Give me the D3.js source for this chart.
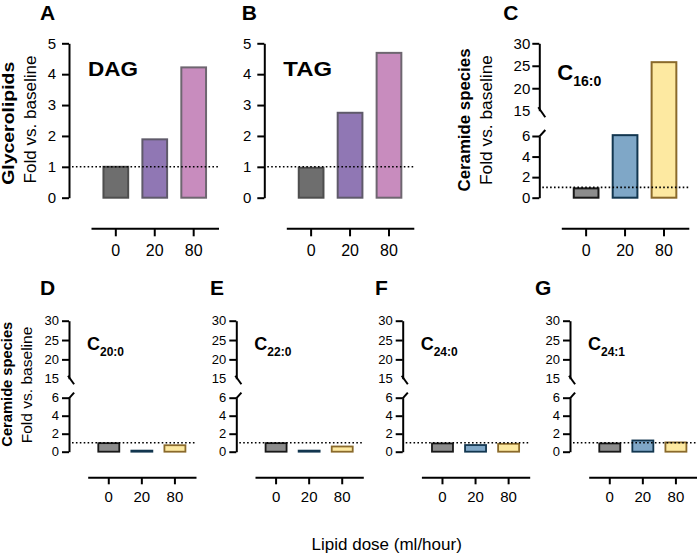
<!DOCTYPE html>
<html><head><meta charset="utf-8">
<script src="https://cdn.jsdelivr.net/npm/d3@7"></script>
<style>
body{margin:0;background:#fff}
svg text{font-family:"Liberation Sans",Arial,Helvetica,sans-serif;fill:#000}
</style>
</head><body>
<svg id="chart" width="697" height="554"></svg>
<script>
// ---------- data ----------
const doses = ["0", "20", "80"];
const dagValues = [1.0, 1.89, 4.22];
const tagValues = [0.97, 2.75, 4.69];
const c16Values = [0.91, 6.3, 25.8];
const c20Values = [0.95, 0.12, 0.72];
const c22Values = [0.95, 0.12, 0.58];
const c240Values = [0.92, 0.74, 0.88];
const c241Values = [0.92, 1.25, 1.03];
const glyceroTicks = [0, 1, 2, 3, 4, 5];
const lowerTicks = [0, 2, 4, 6];
const upperTicks = [15, 20, 25, 30];
const panelLetters = ["A", "B", "C", "D", "E", "F", "G"];
const panelNames = ["DAG", "TAG", "16:0", "20:0", "22:0", "24:0", "24:1"];
const glyceroFill = ["#6e6e6e", "#9077b4", "#c88cbe"];
const glyceroStroke = ["#4e4e4e", "#5f5a6a", "#6e6670"];
const ceramideFill = ["#8c8c8c", "#7fa7c7", "#fde9a1"];
const ceramideStroke = ["#181818", "#12364f", "#8a6a2b"];

// ---------- layout ----------
const svg = d3.select("#chart");
const TOP = {y0: 197.7, y5: 43.3, y6: 136, y15: 110.7, y30: 43.3, xAxisY: 228.3,
  xStart: 22, xEnd: 149.5, xTick: 8, xPad: 8, xFont: 16, yFont: 15, ySize: 7,
  yPad: 6, letterY: 20, nameY: 76, barStroke: 2};
const BOTTOM = {y0: 451.7, y6: 397.7, y15: 378.7, y30: 320.7, xAxisY: 477.3,
  xStart: 18.7, xEnd: 127, xTick: 7, xPad: 7, xFont: 15, yFont: 13, ySize: 7,
  yPad: 3, letterY: 295, nameY: 350, barStroke: 1.8};

const panels = [
  {row: TOP, ax: 69, values: dagValues, kind: "g", letterX: 40, nameW: 50},
  {row: TOP, ax: 264.3, values: tagValues, kind: "g", letterX: 241.7, nameW: 48.7},
  {row: TOP, ax: 539.3, values: c16Values, kind: "c", letterX: 503.3},
  {row: BOTTOM, ax: 69, values: c20Values, kind: "c", letterX: 40},
  {row: BOTTOM, ax: 236.3, values: c22Values, kind: "c", letterX: 210},
  {row: BOTTOM, ax: 402.7, values: c240Values, kind: "c", letterX: 375},
  {row: BOTTOM, ax: 570, values: c241Values, kind: "c", letterX: 535}
];

function styleAxis(sel, font) {
  sel.attr("font-family", null).attr("font-size", null);
  sel.select(".domain").attr("stroke", "#000").attr("stroke-width", 2);
  sel.selectAll(".tick line").attr("stroke", "#000").attr("stroke-width", 2);
  sel.selectAll(".tick text").style("font-size", font + "px").attr("fill", "#000");
}
const fmt = d3.format("d");

panels.forEach((p, pi) => {
  const r = p.row;
  const g = svg.append("g");
  const x = d3.scaleBand().domain(doses)
    .range([p.ax + r.xStart, p.ax + r.xEnd])
    .paddingInner(0.365).paddingOuter(0.32);
  const broken = p.kind === "c";
  const y = broken
    ? d3.scaleLinear().domain([0, 6, 15, 30]).range([r.y0, r.y6, r.y15, r.y30])
    : d3.scaleLinear().domain([0, 5]).range([r.y0, r.y5]);
  const fills = broken ? ceramideFill : glyceroFill;
  const strokes = broken ? ceramideStroke : glyceroStroke;

  // bars
  g.selectAll("rect.bar").data(p.values).join("rect")
    .attr("class", "bar")
    .attr("x", (d, i) => x(doses[i]))
    .attr("width", x.bandwidth())
    .attr("y", d => y(d))
    .attr("height", d => y(0) - y(d))
    .attr("fill", (d, i) => fills[i])
    .attr("stroke", (d, i) => strokes[i])
    .attr("stroke-width", r.barStroke);

  // baseline dotted line
  g.append("line")
    .attr("x1", p.ax + 3).attr("x2", x.range()[1])
    .attr("y1", y(1)).attr("y2", y(1))
    .attr("stroke", "#000").attr("stroke-width", 1.6)
    .attr("stroke-dasharray", "1.6,2.3");

  // y axis
  if (!broken) {
    const ya = g.append("g").attr("transform", `translate(${p.ax},0)`)
      .call(d3.axisLeft(y).tickValues(glyceroTicks).tickFormat(fmt).tickSize(r.ySize)
        .tickPadding(r.yPad).tickSizeOuter(0));
    styleAxis(ya, r.yFont);
  } else {
    const lower = d3.scaleLinear().domain([0, 6]).range([r.y0, r.y6]);
    const upper = d3.scaleLinear().domain([15, 30]).range([r.y15, r.y30]);
    const pad = r === TOP ? 2 : r.yPad;
    const la = g.append("g").attr("transform", `translate(${p.ax},0)`)
      .call(d3.axisLeft(lower).tickValues(lowerTicks).tickFormat(fmt).tickSize(r.ySize)
        .tickPadding(pad).tickSizeOuter(0));
    styleAxis(la, r.yFont);
    const ua = g.append("g").attr("transform", `translate(${p.ax},0)`)
      .call(d3.axisLeft(upper).tickValues(upperTicks).tickFormat(fmt).tickSize(r.ySize)
        .tickPadding(pad).tickSizeOuter(0));
    styleAxis(ua, r.yFont);
    ua.selectAll(".tick").filter(d => d === 15).select("line").attr("stroke", "none");
    // break marks
    const s = r === TOP ? 1 : 0.85;
    g.append("line")
      .attr("x1", p.ax - 1).attr("y1", r.y15 - 3.5 * s)
      .attr("x2", p.ax + 6 * s).attr("y2", r.y15 + 6.5 * s)
      .attr("stroke", "#000").attr("stroke-width", 2);
    g.append("line")
      .attr("x1", p.ax).attr("y1", r.y6 + 0.7)
      .attr("x2", p.ax + 6 * s).attr("y2", r.y6 - 6 * s)
      .attr("stroke", "#000").attr("stroke-width", 2);
  }

  // x axis
  const xa = g.append("g").attr("transform", `translate(0,${r.xAxisY})`)
    .call(d3.axisBottom(x).tickSize(r.xTick).tickPadding(r.xPad).tickSizeOuter(0));
  styleAxis(xa, r.xFont);

  // panel letter
  g.append("text").attr("x", p.letterX).attr("y", r.letterY)
    .style("font-size", "21px").style("font-weight", "bold").text(panelLetters[pi]);

  // name
  if (!broken) {
    g.append("text").attr("x", p.ax + 19).attr("y", r.nameY)
      .attr("textLength", p.nameW).attr("lengthAdjust", "spacingAndGlyphs")
      .style("font-size", "20px").style("font-weight", "bold").text(panelNames[pi]);
  } else {
    const big = r === TOP ? 22 : 18, small = r === TOP ? 14 : 12;
    const t = g.append("text").attr("x", p.ax + 18).attr("y", r === TOP ? 80 : r.nameY)
      .style("font-weight", "bold");
    t.append("tspan").style("font-size", big + "px").text("C");
    t.append("tspan").style("font-size", small + "px").attr("dy", r === TOP ? 6 : 5.5)
      .text(panelNames[pi]);
  }
});

// y titles
function vtext(x, y, str, size, bold, len) {
  const t = svg.append("text").attr("transform", `translate(${x},${y}) rotate(-90)`)
    .attr("text-anchor", "middle")
    .style("font-size", size + "px").style("font-weight", bold ? "bold" : "normal")
    .text(str);
  if (len) t.attr("textLength", len).attr("lengthAdjust", "spacingAndGlyphs");
}
vtext(13.5, 123.3, "Glycerolipids", 16.5, true, 123);
vtext(35.5, 119.5, "Fold vs. baseline", 17, false, 128);
vtext(470, 120, "Ceramide species", 16.5, true, 143);
vtext(491.5, 120, "Fold vs. baseline", 17, false, 130);
vtext(12, 384.2, "Ceramide species", 14, true, 125);
vtext(32, 385, "Fold vs. baseline", 15.5, false, 116.7);

// x title
svg.append("text").attr("x", 386.7).attr("y", 550).attr("text-anchor", "middle")
  .style("font-size", "17px").text("Lipid dose (ml/hour)");
</script>
</body></html>
